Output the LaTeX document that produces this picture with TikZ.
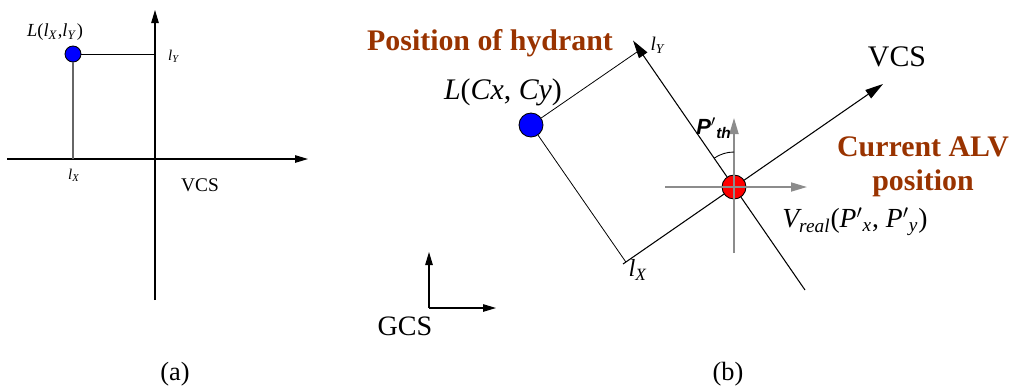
\documentclass[tikz,border=0pt]{standalone}
\usepackage{fontspec}
\setmainfont{Liberation Serif}
\newfontfamily\arialfont{Liberation Sans}
\usetikzlibrary{arrows.meta,calc,positioning}
\definecolor{hydrant}{HTML}{993300}
\definecolor{dotblue}{HTML}{0000FF}
\definecolor{dotred}{HTML}{FF0000}
\definecolor{crossgray}{HTML}{8C8C8C}
\definecolor{legray}{HTML}{666666}
\newcommand\setfs[1]{\fontsize{#1}{1.15\dimexpr#1pt\relax}\selectfont}
\newcommand\pr{\ensuremath{'}}
\tikzset{
  axisarrow/.style={
    -{Triangle[length=0.26cm, width=0.15cm]}, line width=0.6pt, black
  },
  bigarrow/.style={
    -{Triangle[length=0.36cm, width=0.2cm]}, line width=0.6pt, black
  },
  grayarrow/.style={
    -{Triangle[length=0.32cm, width=0.18cm]}, line width=1pt, crossgray
  },
  legline/.style={line width=0.45pt, #1},
  legline/.default=black,
  locdot/.style={
    circle, draw=black, fill=#1, line width=0.5pt,
    inner sep=0pt
  },
  locdot/.default=dotblue,
  tag/.style={inner sep=1pt, font=\setfs{#1}},
  tag/.default=12,
  browntag/.style={inner sep=1pt, text=hydrant, align=center,
    font=\setfs{17}\bfseries},
}

\begin{document}
\begin{tikzpicture}[x=0.02cm, y=-0.02cm]
  \useasboundingbox (0,0) rectangle (1014,390);
  % (a) vehicle frame
  \coordinate (axl) at (7,159);
  \coordinate (axr) at (308,159);
  \coordinate (ayb) at (155,300);
  \coordinate (ayt) at (155,10);
  \draw[axisarrow] (axl) -- (axr);
  \draw[axisarrow] (ayb) -- (ayt);
  \node[locdot, minimum size=0.32cm] (la) at (73,54) {};
  \draw[legline] (la) -- (la -| ayt);
  \draw[legline=legray, line width=0.8pt] (la) -- (la |- axl);
  \node[tag=10.5] (lalbl) at (55,32) {\textit{L}(\textit{l}\textsubscript{\textit{X}},\textit{l}\textsubscript{\textit{Y}})};
  \node[tag=8.5] (lya) at (174,56) {\textit{l}\textsubscript{\textit{Y}}};
  \node[tag=8.5] (lxa) at (74,175) {\textit{l}\textsubscript{\textit{X}}};
  \node[tag=11] (vcsa) at (200,185) {VCS};
  \node[tag=15] (capa) at (175,374) {(a)};

  % (b) global frame
  \coordinate (vr0) at (734,187);
  \node[locdot, minimum size=0.48cm] (lb) at (531,125) {};
  \coordinate (vxs) at (623,264);
  \coordinate (vxe) at (883,84);
  \coordinate (vys) at (805,290);
  \coordinate (vye) at (633,40.5);
  \draw[bigarrow] (vxs) -- (vxe);
  \draw[bigarrow] (vys) -- (vye);
  \node[locdot=dotred, minimum size=0.48cm] (vr) at (vr0) {};
  \draw[grayarrow] (665,187) -- (807,187);
  \draw[grayarrow] (734,253) -- (734,118);
  \coordinate (footy) at ($(vys)!(lb)!(vye)$);
  \coordinate (footx) at ($(vxs)!(lb)!(vxe)$);
  \draw[legline] (lb) -- (footy);
  \draw[legline] (lb) -- (footx);
  \draw[line width=0.5pt] ($(vr)+(0,-35)$) arc[start angle=-90, end angle=-124.6, radius=35];
  \node[tag=11] (lyb) at (658,45) {\textit{l}\textsubscript{\textit{Y}}};
  \node[tag=14] (lxb) at (638,270) {\textit{l}\textsubscript{\textit{X}}};
  \node[tag=17] (vcsb) at (897,57) {VCS};
  \node[tag=12.5] (pth) at (714,128) {\arialfont\bfseries\itshape P\pr\textsubscript{th}};
  \node[browntag] (alv) at (923,167) {Current ALV\\position};
  \node[browntag] (hyd) at (490,43) {Position of hydrant};
  \node[tag=17] (lblb) at (503,92) {\textit{L}(\textit{Cx}, \textit{Cy})};
  \node[tag=15.7] (vlbl) at (855,222) {\textit{V\textsubscript{real}}(\textit{P}\pr\textsubscript{\textit{x}}, \textit{P}\pr\textsubscript{\textit{y}})};
  % GCS
  \coordinate (go) at (429,308);
  \draw[axisarrow] (go) -- (429,252);
  \draw[axisarrow] (go) -- (496,308);
  \node[tag=16] (gcs) at (405,326) {GCS};
  \node[tag=15] (capb) at (728,374) {(b)};
\end{tikzpicture}
\end{document}
